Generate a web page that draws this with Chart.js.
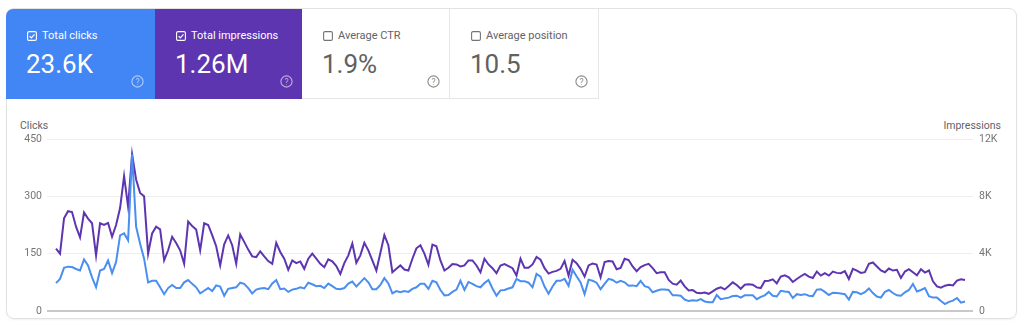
<!DOCTYPE html>
<html>
<head>
<meta charset="utf-8">
<script src="https://cdn.jsdelivr.net/npm/chart.js@4.4.1/dist/chart.umd.min.js"></script>
<style>
  html, body { margin: 0; padding: 0; background: #fff; }
  body { width: 1024px; height: 329px; position: relative; overflow: hidden; font-family: Roboto, Arial, sans-serif; }
  .card { position: absolute; left: 6px; top: 8px; width: 1011px; height: 311px; box-sizing: border-box;
          border: 1px solid #e2e2e2; border-radius: 8px; box-shadow: 0 1px 2px rgba(0,0,0,0.06); }
  .tile { position: absolute; top: 9px; height: 90px; box-sizing: border-box; }
  .tile.clicks { background: #4285f4; color: #fff; border-top-left-radius: 7px; }
  .tile.impr { background: #5e35b1; color: #fff; }
  .tile.plain { background: #fff; color: #5f6368; border-right: 1px solid #e6e6e6; border-bottom: 1px solid #e6e6e6; }
  .tile .box { position: absolute; left: 21px; top: 22px; width: 10px; height: 10px; }
  .tile .label { position: absolute; left: 36px; top: 20px; font-size: 11px; line-height: 13px; white-space: nowrap; }
  .tile .value { position: absolute; left: 20px; top: 42px; font-size: 26px; line-height: 27px; white-space: nowrap; }
  .tile .help { position: absolute; left: 125px; top: 66px; width: 13px; height: 13px; }
  .tile.clicks .help, .tile.impr .help { color: rgba(255,255,255,0.6); }
  .tile.plain .help { color: #8a8a8a; }
  .tile.plain .value { color: #616161; }
  .tile.plain .box { color: #757575; }
  .axis-title { position: absolute; top: 119px; font-size: 10.5px; line-height: 13px; color: #5f6368; }
  #chart { position: absolute; left: 0; top: 0; }
</style>
</head>
<body>
<div class="card"></div>
<div id="tiles"></div>
<div class="axis-title" style="left:20px;">Clicks</div>
<div class="axis-title" style="right:23px;">Impressions</div>
<canvas id="chart" width="1024" height="329"></canvas>
<script>
// daily values (one point every few days)
var clicks = [
  73, 84, 113, 116, 115, 110, 106, 135, 119, 88, 62, 106, 110, 132, 99, 128, 198, 203, 185, 410,
  221, 176, 137, 75, 79, 79, 62, 44, 60, 68, 60, 60, 75, 81, 71, 62, 46, 53, 60,
  52, 67, 64, 40, 58, 60, 62, 74, 71, 60, 46, 56, 59, 60, 57, 72, 81, 57, 59, 50,
  56, 58, 62, 59, 74, 70, 65, 66, 60, 72, 65, 58, 57, 60, 72, 77, 64, 75, 86,
  75, 57, 57, 68, 86, 72, 46, 52, 49, 52, 50, 58, 62, 71, 71, 58, 79, 75, 55, 41,
  42, 50, 56, 79, 55, 76, 71, 65, 62, 73, 81, 59, 40, 54, 55, 59, 62, 84, 78,
  78, 74, 62, 97, 90, 64, 45, 64, 79, 79, 84, 66, 108, 91, 75, 44, 82, 79, 74, 57,
  71, 84, 81, 74, 79, 75, 66, 67, 65, 79, 65, 62, 49, 53, 56, 56, 55, 41,
  41, 40, 30, 26, 28, 27, 31, 25, 23, 23, 42, 31, 33, 35, 39, 40, 35, 41, 41, 41,
  31, 37, 41, 50, 40, 38, 53, 51, 50, 34, 44, 42, 44, 40, 39, 56, 57, 50, 42,
  48, 47, 46, 44, 30, 50, 49, 44, 49, 59, 47, 38, 35, 50, 55, 47, 41, 40, 49, 55,
  71, 51, 55, 60, 39, 35, 35, 26, 18, 24, 27, 34, 22, 25
];
var impressions = [
  4350, 4000, 6470, 6965, 6900, 5880, 5130, 6870, 6450, 6120, 3880, 6120, 6000, 6150, 5180, 6000, 7180, 9410, 7290, 10940,
  9180, 8240, 8000, 4000, 5410, 5880, 5690, 3530, 4235, 5180, 4750, 4235, 3290, 6235, 5930, 5690, 4235, 6120, 6000,
  5294, 4518, 3176, 4659, 5271, 4588, 3294, 5341, 4824, 4282, 3812, 3765, 4165, 3812, 3482, 3294, 4753, 4118, 3647, 2871,
  3529, 3341, 3459, 2941, 3647, 4000, 3647, 3294, 3059, 3600, 3459, 3129, 2588, 3341, 3882, 4706, 3365, 3882, 4753,
  4235, 3529, 2824, 4047, 5294, 4588, 2706, 2941, 3176, 2894, 2824, 3647, 4376, 4588, 4000, 3224, 4635, 4518, 3529, 2824,
  3012, 3271, 3247, 3106, 3176, 3529, 3529, 3176, 2706, 3647, 3247, 2988, 2635, 3176, 3271, 3129, 2988, 2471, 3647,
  3012, 3012, 3247, 3765, 3576, 2988, 2612, 2730, 2800, 2941, 3482, 2471, 3576, 3341, 2941, 2400, 3176, 3318, 3247, 2353,
  3412, 3482, 3459, 2918, 3012, 3647, 3553, 3106, 2776, 3059, 3200, 3294, 2988, 2635, 2706, 2706, 2165, 1906,
  1835, 2118, 1718, 1435, 1459, 1271, 1247, 1294, 1200, 1365, 1553, 1647, 1506, 1741, 2000, 1812, 1553, 1835, 1859, 1835,
  1647, 1600, 2094, 2118, 2212, 1929, 2400, 2494, 2353, 2024, 2235, 2424, 2588, 2400, 2306, 2753, 2471, 2635, 2471,
  2753, 2659, 2635, 2776, 2235, 2941, 2824, 2659, 2706, 3294, 3388, 3106, 2824, 2706, 2965, 2824, 2871, 2306, 2753, 2918,
  2706, 2494, 2918, 2682, 2824, 2071, 1718, 1624, 1765, 1835, 1788, 2118, 2212, 2165
];
var clickTicks = [0, 150, 300, 450];
var impressionTicks = [0, 4000, 8000, 12000];

// summary tiles
var tileLabels = ['Total clicks', 'Total impressions', 'Average CTR', 'Average position'];
var tileValues = ['23.6K', '1.26M', '1.9%', '10.5'];
var tileChecked = [true, true, false, false];

// tiles
var tileClass = ['clicks', 'impr', 'plain', 'plain'];
var tileLeft = [6, 155, 302, 450];
var tileWidth = [149, 147, 148, 149];
var tilesDiv = document.getElementById('tiles');
for (var t = 0; t < tileLabels.length; t++) {
  var mark = tileChecked[t] ? '<path d="M2.6 5.1 L4.3 6.8 L7.5 3.4" fill="none" stroke="currentColor" stroke-width="1.2"/>' : '';
  tilesDiv.innerHTML +=
    '<div class="tile ' + tileClass[t] + '" style="left:' + tileLeft[t] + 'px;width:' + tileWidth[t] + 'px;">' +
      '<svg class="box" viewBox="0 0 10 10"><rect x="0.6" y="0.6" width="8.8" height="8.8" rx="1.4" fill="none" stroke="currentColor" stroke-width="1.1"/>' + mark + '</svg>' +
      '<div class="label">' + tileLabels[t] + '</div>' +
      '<div class="value">' + tileValues[t] + '</div>' +
      '<svg class="help" viewBox="0 0 13 13"><circle cx="6.5" cy="6.5" r="5.6" fill="none" stroke="currentColor" stroke-width="1.1"/>' +
      '<text x="6.5" y="9.5" text-anchor="middle" font-size="8.5" font-family="Roboto" fill="currentColor">?</text></svg>' +
    '</div>';
}

// chart
var toPoints = function (arr) { return arr.map(function (v, i) { return { x: i, y: v }; }); };

var ctx = document.getElementById('chart').getContext('2d');
var chart = new Chart(ctx, {
  type: 'line',
  data: {
    datasets: [{
      label: 'Clicks',
      data: toPoints(clicks),
      yAxisID: 'yC',
      borderColor: '#4a8ef0',
      borderWidth: 2,
      pointRadius: 0,
      tension: 0
    }, {
      label: 'Impressions',
      data: toPoints(impressions),
      yAxisID: 'yI',
      borderColor: '#5e35b1',
      borderWidth: 2,
      pointRadius: 0,
      tension: 0
    }]
  },
  options: {
    responsive: false,
    animation: false,
    devicePixelRatio: 1,
    layout: { padding: { top: 139, bottom: 18, left: 0, right: 0 } },
    plugins: { legend: { display: false }, tooltip: { enabled: false } },
    scales: {
      x: { type: 'linear', min: -2.25, max: clicks.length + 1, display: false },
      yC: {
        position: 'left',
        min: 0, max: 450,
        afterBuildTicks: function (s) { s.ticks = clickTicks.map(function (v) { return { value: v }; }); },
        afterFit: function (s) { s.width = 47; },
        ticks: { color: '#757575', font: { family: 'Roboto', size: 10.5 }, padding: 5 },
        grid: {
          drawTicks: false,
          color: function (c) { return c.tick && c.tick.value === 0 ? '#c9c9c9' : '#eeeeee'; },
          lineWidth: function (c) { return c.tick && c.tick.value === 0 ? 2 : 1; }
        },
        border: { display: false }
      },
      yI: {
        position: 'right',
        min: 0, max: 12000,
        afterBuildTicks: function (s) { s.ticks = impressionTicks.map(function (v) { return { value: v }; }); },
        afterFit: function (s) { s.width = 51; },
        ticks: {
          color: '#757575', font: { family: 'Roboto', size: 10.5 }, padding: 6,
          callback: function (v) { return v === 0 ? '0' : (v / 1000) + 'K'; }
        },
        grid: { display: false, drawTicks: false },
        border: { display: false }
      }
    }
  }
});
</script>
</body>
</html>
